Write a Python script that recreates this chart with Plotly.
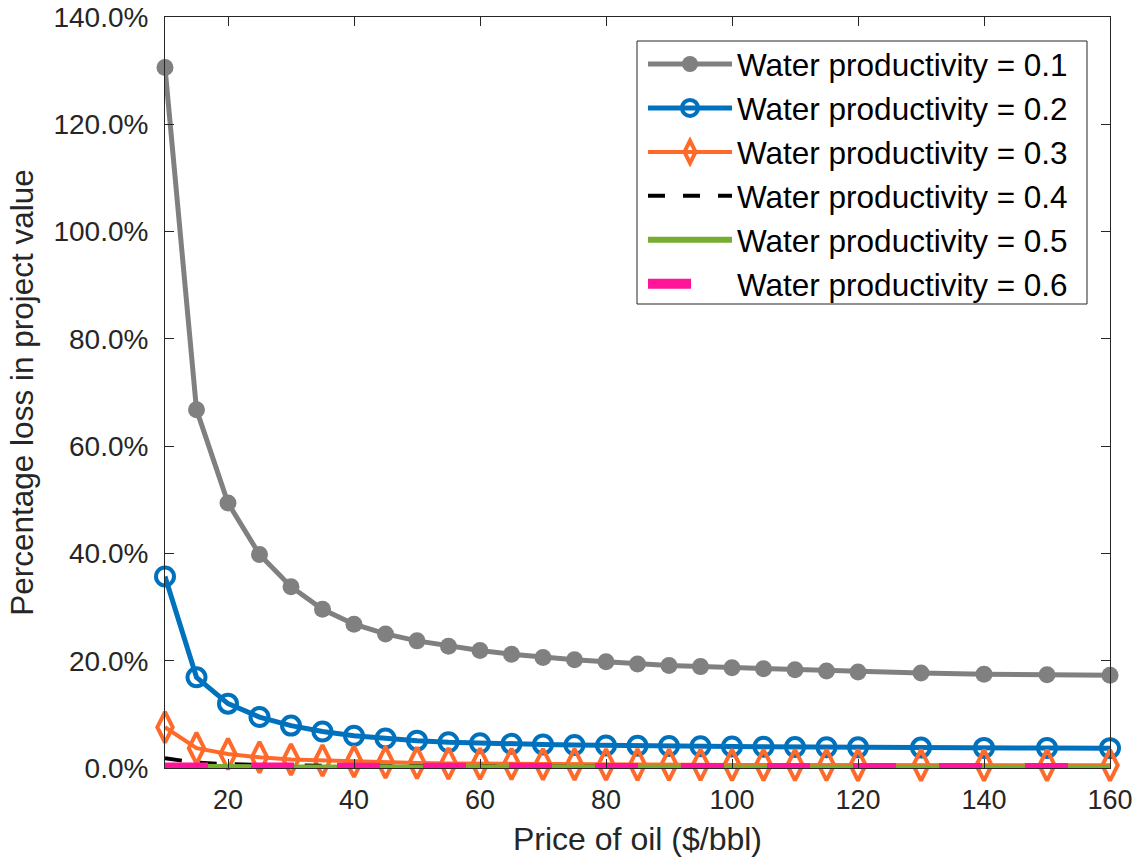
import plotly.graph_objects as go

price = [10, 15, 20, 25, 30, 35, 40, 45, 50, 55, 60, 65, 70, 75, 80, 85, 90, 95,
         100, 105, 110, 115, 120, 130, 140, 150, 160]

wp01 = [130.6, 66.8, 49.4, 39.8, 33.8, 29.6, 26.8, 25.0, 23.7, 22.7, 21.9, 21.2, 20.6,
        20.2, 19.8, 19.4, 19.1, 18.9, 18.7, 18.5, 18.3, 18.1, 17.9, 17.7, 17.5, 17.4, 17.3]
wp02 = [35.7, 16.9, 12.0, 9.5, 7.9, 6.8, 6.0, 5.5, 5.1, 4.8, 4.6, 4.5, 4.4, 4.3, 4.2,
        4.15, 4.1, 4.05, 4.0, 3.95, 3.9, 3.88, 3.85, 3.8, 3.75, 3.72, 3.7]
wp03 = [7.6, 3.7, 2.6, 2.0, 1.6, 1.4, 1.2, 1.05, 0.95, 0.85, 0.8, 0.75, 0.7, 0.68, 0.65,
        0.63, 0.61, 0.6, 0.58, 0.57, 0.56, 0.55, 0.54, 0.53, 0.52, 0.51, 0.5]
wp04 = [1.8, 1.0, 0.7, 0.55, 0.45, 0.4, 0.35, 0.3, 0.28, 0.26, 0.25, 0.24, 0.23, 0.22,
        0.21, 0.2, 0.2, 0.19, 0.19, 0.18, 0.18, 0.17, 0.17, 0.16, 0.16, 0.15, 0.15]
wp05 = [0.3, 0.2, 0.15, 0.12, 0.1, 0.09, 0.08, 0.07, 0.07, 0.06, 0.06, 0.06, 0.05, 0.05,
        0.05, 0.05, 0.04, 0.04, 0.04, 0.04, 0.04, 0.04, 0.04, 0.03, 0.03, 0.03, 0.03]
wp06 = [0.1, 0.06, 0.04, 0.03, 0.03, 0.02, 0.02, 0.02, 0.02, 0.01, 0.01, 0.01, 0.01, 0.01,
        0.01, 0.01, 0.01, 0.01, 0.01, 0.01, 0.01, 0.01, 0.01, 0.01, 0.01, 0.01, 0.01]

names = ["Water productivity = 0.1", "Water productivity = 0.2", "Water productivity = 0.3",
         "Water productivity = 0.4", "Water productivity = 0.5", "Water productivity = 0.6"]

y_ticks = [0, 20, 40, 60, 80, 100, 120, 140]
x_ticks = [20, 40, 60, 80, 100, 120, 140, 160]

TXT = "#262626"
FONT = "Liberation Sans, Arial, Helvetica, sans-serif"

fig = go.Figure()
fig.add_trace(go.Scatter(x=price, y=wp01, name=names[0], mode="lines+markers",
                         line=dict(color="#808080", width=5),
                         marker=dict(symbol="circle", size=17, color="#808080"),
                         cliponaxis=False))
fig.add_trace(go.Scatter(x=price, y=wp02, name=names[1], mode="lines+markers",
                         line=dict(color="#0072BD", width=5),
                         marker=dict(symbol="circle-open", size=18, color="#0072BD",
                                     line=dict(width=4, color="#0072BD")),
                         cliponaxis=False))
fig.add_trace(go.Scatter(x=price, y=wp03, name=names[2], mode="lines+markers",
                         line=dict(color="#FF6A2B", width=4),
                         marker=dict(symbol="diamond-tall-open", size=22, color="#FF6A2B",
                                     line=dict(width=4, color="#FF6A2B")),
                         cliponaxis=False))
fig.add_trace(go.Scatter(x=price, y=wp04, name=names[3], mode="lines",
                         line=dict(color="#000000", width=4, dash="17px,18px"),
                         cliponaxis=False))
fig.add_trace(go.Scatter(x=price, y=wp05, name=names[4], mode="lines",
                         line=dict(color="#77AC30", width=6),
                         cliponaxis=False))
fig.add_trace(go.Scatter(x=price, y=wp06, name=names[5], mode="lines",
                         line=dict(color="#FF149A", width=10, dash="43px,43px"),
                         cliponaxis=False))

axis_common = dict(showgrid=False, zeroline=False, showline=True, linecolor=TXT,
                   linewidth=1, mirror="ticks", ticks="inside", ticklen=9,
                   tickcolor=TXT, tickwidth=1, automargin=False)

fig.update_xaxes(range=[10, 160], tickvals=x_ticks, ticklabelstandoff=8,
                 tickfont=dict(family=FONT, size=27, color=TXT),
                 title=dict(text="Price of oil ($/bbl)",
                            font=dict(family=FONT, size=32, color=TXT), standoff=13),
                 **axis_common)
fig.update_yaxes(range=[0, 140], tickvals=y_ticks,
                 ticktext=[f"{v:.1f}%" for v in y_ticks], ticklabelstandoff=10,
                 tickfont=dict(family=FONT, size=28, color=TXT),
                 title=dict(text="Percentage loss in project value",
                            font=dict(family=FONT, size=31.5, color=TXT), standoff=10),
                 **axis_common)

L, R, T, B = 165, 1110, 17, 768
def px(x): return (x - L) / (R - L)
def py(y): return (B - y) / (B - T)

# legend frame
fig.add_shape(type="rect", xref="paper", yref="paper", layer="above",
              x0=px(637), x1=px(1087), y0=py(304), y1=py(41),
              line=dict(color=TXT, width=1), fillcolor="rgba(0,0,0,0)")

fig.update_layout(
    width=1140, height=861,
    margin=dict(l=L, r=1140 - R, t=T, b=861 - B),
    plot_bgcolor="white", paper_bgcolor="white",
    font=dict(family=FONT, color=TXT),
    legend=dict(x=px(643), y=py(37), xanchor="left", yanchor="top",
                bgcolor="rgba(255,255,255,0)", borderwidth=0,
                font=dict(family=FONT, size=31.5, color="#000000"),
                itemwidth=84, tracegroupgap=0),
)

fig.write_html("out.html",
               post_script="document.body.style.margin='0';"
                           "document.body.style.overflow='hidden';")
